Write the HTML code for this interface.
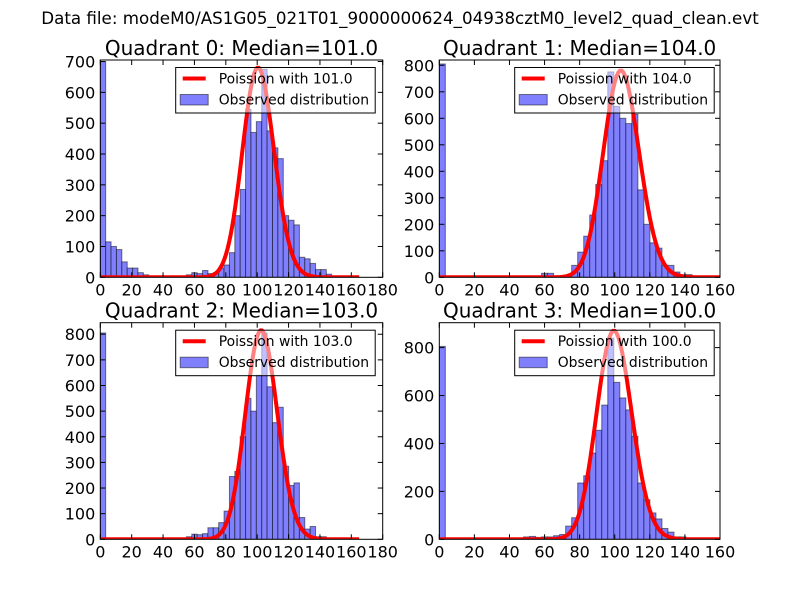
<!DOCTYPE html>
<html><head><meta charset="utf-8"><style>
body{margin:0;background:#fff}
svg{display:block;font-family:"DejaVu Sans","Liberation Sans",sans-serif}
</style></head><body>
<svg id="fig" width="800" height="600" viewBox="0 0 800 600" xmlns="http://www.w3.org/2000/svg">
<rect width="800" height="600" fill="#fff"/>
<text x="400" y="24" font-size="16.7" text-anchor="middle">Data file: modeM0/AS1G05_021T01_9000000624_04938cztM0_level2_quad_clean.evt</text>
</svg>
<script>
const binWidth = 3.43;
const medians = [101.0, 104.0, 103.0, 100.0];
const poissonPeaks = [680, 780, 815, 870];
const q0Counts = [700,115,100,90,50,30,30,15,8,3,2,1,1,1,2,3,8,15,12,22,12,15,30,40,80,200,285,545,470,505,675,475,420,385,200,185,170,65,60,45,25,25,10,3,1,1,1,1];
const q1Counts = [805,0,0,0,0,0,0,0,0,0,0,0,0,0,0,0,0,15,15,0,2,3,45,95,155,235,350,440,775,645,600,580,615,330,200,130,110,45,45,20,10,10,0,0,0,0,0,0];
const q2Counts = [805,0,0,0,0,0,0,0,0,0,0,0,1,2,3,5,10,20,18,22,45,45,65,110,245,265,400,550,500,640,805,595,455,515,285,210,220,85,40,50,10,10,3,1,0,0,0,0];
const q3Counts = [805,0,0,0,0,0,0,0,0,0,0,0,0,0,10,12,8,10,10,15,20,55,90,235,265,360,455,560,840,655,590,540,430,235,165,110,85,45,30,10,10,3,1,0,0,0,0,0];
const xTicksLeft = [0,20,40,60,80,100,120,140,160,180];
const xTicksRight = [0,20,40,60,80,100,120,140,160];
const yTicks0 = [0,100,200,300,400,500,600,700];
const yTicks1 = [0,100,200,300,400,500,600,700,800];
const yTicks2 = [0,100,200,300,400,500,600,700,800];
const yTicks3 = [0,200,400,600,800];
const yMaxes = [705, 820, 845, 904];
const xMaxes = [180, 160, 180, 160];

const NS = "http://www.w3.org/2000/svg";
const svg = document.getElementById('fig');
function mk(tag, attrs, parent){const e=document.createElementNS(NS,tag);for(const k in attrs)e.setAttribute(k,attrs[k]);(parent||svg).appendChild(e);return e;}

const boxes = [
 {x0:100.3,x1:382.7,y0:60,y1:277.3},
 {x0:439.3,x1:720,y0:60,y1:277.3},
 {x0:100.3,x1:382.7,y0:322.7,y1:539.3},
 {x0:439.3,x1:720,y0:322.7,y1:539.3}];
const counts=[q0Counts,q1Counts,q2Counts,q3Counts];
const xt=[xTicksLeft,xTicksRight,xTicksLeft,xTicksRight];
const yt=[yTicks0,yTicks1,yTicks2,yTicks3];

function lnFact(k){let s=0;for(let i=2;i<=k;i++)s+=Math.log(i);return s;}

for(let p=0;p<4;p++){
  const b=boxes[p];
  const g=mk('g',{});
  
  
  const sx=v=>b.x0+(v/xMaxes[p])*(b.x1-b.x0);
  const sy=v=>b.y1-(v/yMaxes[p])*(b.y1-b.y0);
  const clip=mk('clipPath',{id:'c'+p},g);
  mk('rect',{x:b.x0,y:b.y0,width:b.x1-b.x0,height:b.y1-b.y0},clip);
  const pg=mk('g',{'clip-path':'url(#c'+p+')'},g);
  counts[p].forEach((c,i)=>{
    if(c<=0)return;
    const r=mk('rect',{x:sx(i*binWidth),y:sy(c),width:sx((i+1)*binWidth)-sx(i*binWidth),height:sy(0)-sy(c),fill:'#8080ff',stroke:'#000','stroke-opacity':0.5,'stroke-width':1},pg);
    
    
  });
  const mu=medians[p];
  const pk=Math.exp(Math.floor(mu)*Math.log(mu)-mu-lnFact(Math.floor(mu)));
  let d='';
  for(let k=0;k<=165;k++){
    const v=Math.exp(k*Math.log(mu)-mu-lnFact(k))/pk*poissonPeaks[p];
    d+=(k?'L':'M')+sx(k).toFixed(2)+','+sy(v).toFixed(2);
  }
  const ln=mk('path',{d:d,fill:'none',stroke:'#ff0000','stroke-width':4,'stroke-linejoin':'round'},pg);
  
  
  mk('rect',{x:b.x0,y:b.y0,width:b.x1-b.x0,height:b.y1-b.y0,fill:'none',stroke:'#000','stroke-width':1},g);
  xt[p].forEach(t=>{
    const x=sx(t);
    mk('line',{x1:x,x2:x,y1:b.y1,y2:b.y1-5,stroke:'#000'},g);
    mk('line',{x1:x,x2:x,y1:b.y0,y2:b.y0+5,stroke:'#000'},g);
    const tx=mk('text',{x:x,y:b.y1+18,'font-size':16,'text-anchor':'middle'},g);
    tx.textContent=t;
    
    
  });
  yt[p].forEach(t=>{
    const y=sy(t);
    mk('line',{x1:b.x0,x2:b.x0+5,y1:y,y2:y,stroke:'#000'},g);
    mk('line',{x1:b.x1,x2:b.x1-5,y1:y,y2:y,stroke:'#000'},g);
    const tx=mk('text',{x:b.x0-5,y:y+6,'font-size':16,'text-anchor':'end'},g);
    tx.textContent=t;
    
    
  });
  const ti=mk('text',{x:(b.x0+b.x1)/2,y:b.y0-5,'font-size':20,'text-anchor':'middle'},g);
  ti.textContent='Quadrant '+p+': Median='+medians[p].toFixed(1);
  
  
  const lx=b.x0+75.4, ly=b.y0+7.5;
  const lg=mk('g',{},g);
  
  
  mk('rect',{x:lx,y:ly,width:199.5,height:45.5,fill:'#fff','fill-opacity':0.5,stroke:'#000','stroke-width':1},lg);
  mk('line',{x1:lx+7,x2:lx+30,y1:ly+11,y2:ly+11,stroke:'#ff0000','stroke-width':4},lg);
  const t1=mk('text',{x:lx+43,y:ly+16,'font-size':13.9},lg);
  t1.textContent='Poission with '+medians[p].toFixed(1);
  mk('rect',{x:lx+4.5,y:ly+27,width:28,height:10.5,fill:'#8080ff',stroke:'#000','stroke-opacity':0.5},lg);
  const t2=mk('text',{x:lx+43,y:ly+37,'font-size':13.9},lg);
  t2.textContent='Observed distribution';
}
</script>
</body></html>
